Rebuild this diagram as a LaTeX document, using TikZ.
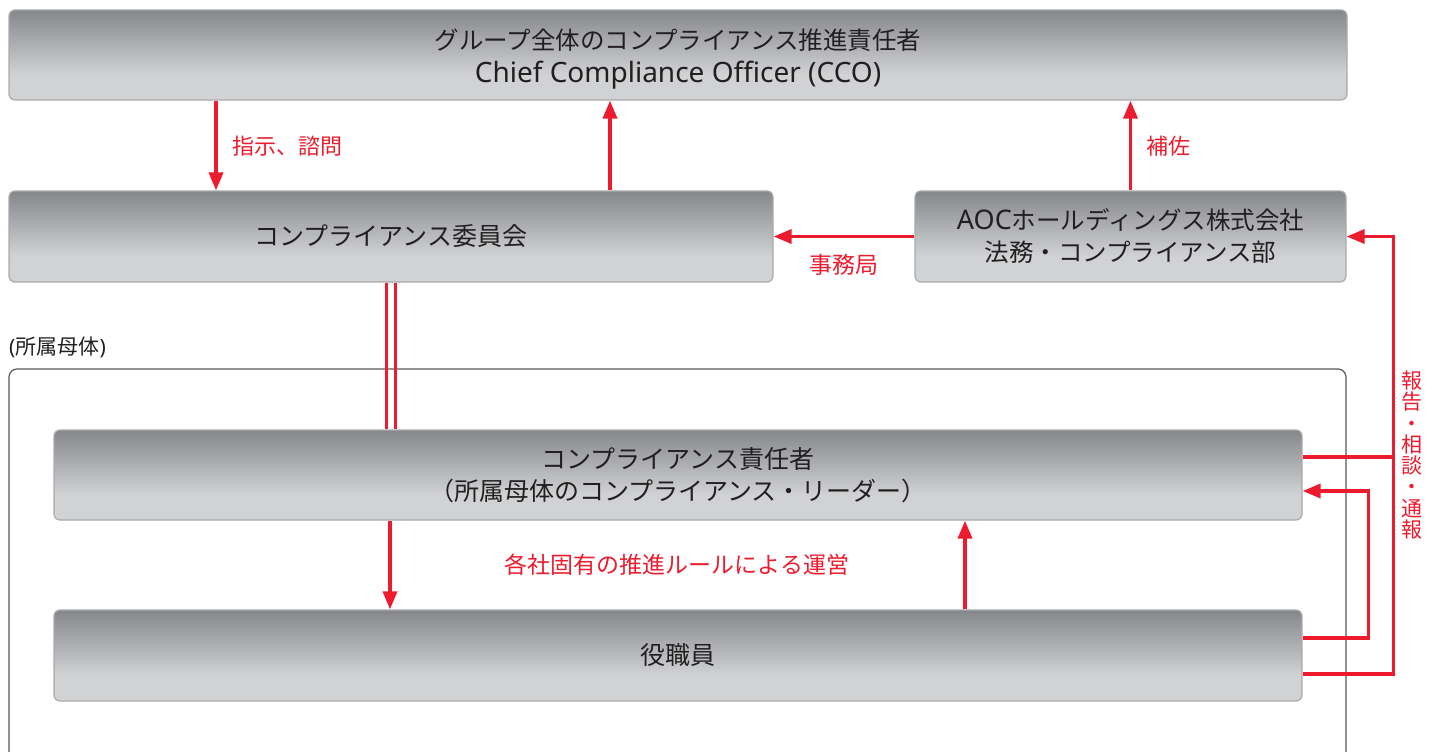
\documentclass[tikz,border=0pt]{standalone}
\usepackage{fontspec}
\setmainfont{Noto Sans CJK JP}
\newfontfamily\latinfont{Noto Sans}
\usetikzlibrary{arrows.meta,calc}
\definecolor{boxdark}{HTML}{86878B}
\definecolor{boxlight}{HTML}{D1D2D4}
\definecolor{boxedge}{HTML}{A9AAAC}
\definecolor{aocred}{HTML}{EC1C2E}
\definecolor{txt}{HTML}{231F20}
\definecolor{framec}{HTML}{58585A}
\pgfdeclareverticalshading{boxshade}{100bp}{color(0bp)=(boxlight); color(39bp)=(boxlight); color(75bp)=(boxdark); color(100bp)=(boxdark)}
\tikzset{
  box/.style={draw=boxedge, line width=1.2pt, rounded corners=6pt, shade, shading=boxshade,
    inner sep=0pt, text=txt, font=\fontsize{25}{32}\selectfont, align=center},
  rl/.style={draw=aocred, line width=3.5pt},
  arr/.style={rl, -{Triangle[length=18pt,width=14pt]}},
  lbl/.style={text=aocred, font=\fontsize{23}{26}\selectfont, inner sep=0pt},
  frame/.style={draw=framec, line width=1.2pt, rounded corners=8pt}
}
\begin{document}
\begin{tikzpicture}[x=1pt,y=-1pt]
\useasboundingbox (0,0) rectangle (1436,752);
% boxes
\node[box, minimum width=1338pt, minimum height=90pt, font=\fontsize{24.5}{33}\selectfont] (cco) at (678,55)
  {\raisebox{0pt}[28pt][0pt]{グループ全体のコンプライアンス推進責任者}\\{\latinfont\fontsize{28}{33}\selectfont Chief Compliance Officer (CCO)}};
\node[box, minimum width=764pt, minimum height=91pt] (com) at (391,236.5)
  {コンプライアンス委員会};
\node[box, minimum width=431pt, minimum height=91pt, font=\fontsize{24.5}{32}\selectfont] (aoc) at (1130.5,236.5)
  {{\latinfont\fontsize{27}{32}\selectfont AOC}ホールディングス株式会社\\法務・コンプライアンス部};
% frame
\draw[frame] (9,752) |- (1346,369) -- (1346,752);
\node[anchor=west, inner sep=0pt, text=txt, font=\fontsize{21}{24}\selectfont] (grp) at (9,347) {{\latinfont(}所属母体{\latinfont)}};
\node[box, minimum width=1248pt, minimum height=90pt] (lead) at (678,475)
  {コンプライアンス責任者\\（所属母体のコンプライアンス・リーダー）};
\node[box, minimum width=1248pt, minimum height=91pt] (staff) at (678,655.5)
  {役職員};
% coordinates
\coordinate (x216) at (216,0);
\coordinate (x610) at (610,0);
\coordinate (x390) at (390,0);
\coordinate (x965) at (965,0);
% arrows
\draw[arr] (x216 |- cco.south) -- (x216 |- com.north);
\draw[arr] (x610 |- com.north) -- (x610 |- cco.south);
\draw[arr] (aoc.north) -- (aoc.north |- cco.south);
\draw[arr] (aoc.west) -- (com.east);
\draw[rl] ([xshift=-4.5pt]com.south) -- ([xshift=-4.5pt]com.south |- lead.north);
\draw[rl] ([xshift=4.5pt]com.south) -- ([xshift=4.5pt]com.south |- lead.north);
\draw[arr] (x390 |- lead.south) -- (x390 |- staff.north);
\draw[arr] (x965 |- staff.north) -- (x965 |- lead.south);
\draw[rl] ($(lead.east)+(0,-18)$) -- ++(91,0);
\draw[arr] ($(staff.east)+(0,18.5)$) -- ++(91,0) |- (aoc.east);
\draw[arr] ($(staff.east)+(0,-17.5)$) -- ++(66,0) |- ($(lead.east)+(0,16)$);
% labels
\node[lbl, anchor=west, font=\fontsize{22}{26}\selectfont] (l1) at (232,146) {指示、諮問};
\node[lbl, anchor=west, font=\fontsize{22}{26}\selectfont] (l2) at (1146,146) {補佐};
\node[lbl] (l3) at (844,265) {事務局};
\node[lbl] (l4) at (677,565) {各社固有の推進ルールによる運営};
\node[lbl, align=center, font=\fontsize{21}{21.3}\selectfont] (l5) at (1412,455)
  {報\\告\\・\\相\\談\\・\\通\\報};
\end{tikzpicture}
\end{document}
